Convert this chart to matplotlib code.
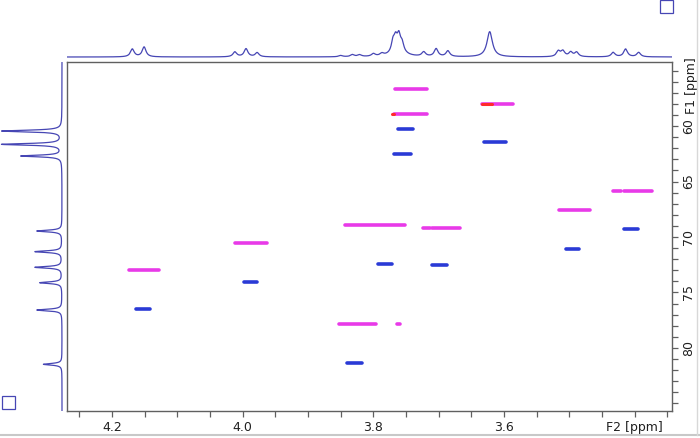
import numpy as np
import matplotlib.pyplot as plt
from matplotlib.patches import Rectangle
from matplotlib.lines import Line2D
from matplotlib.ticker import FixedLocator, MultipleLocator

# 1H-13C HSQC (multiplicity edited) with 1D projections
# F2 = 1H axis, F1 = 13C axis, both in ppm

# top 1D (1H) projection: peak positions [ppm], relative heights, half widths [ppm]
h_ppm = [4.169, 4.151, 4.012, 3.995, 3.978,
         3.850, 3.832, 3.821, 3.800, 3.787,
         3.770, 3.766, 3.761, 3.756, 3.762,
         3.723, 3.704, 3.686, 3.622,
         3.517, 3.510, 3.498, 3.489,
         3.433, 3.414, 3.394]
h_int = [0.30, 0.38, 0.19, 0.31, 0.16,
         0.05, 0.08, 0.07, 0.10, 0.09,
         0.40, 0.45, 0.55, 0.30, 0.22,
         0.17, 0.30, 0.22, 0.97,
         0.21, 0.21, 0.17, 0.17,
         0.17, 0.30, 0.17]
h_hw = [0.0035] * 10 + [0.003, 0.003, 0.003, 0.003, 0.012] + [0.0035] * 3 + [0.005] + [0.0035] * 7

# left 1D (13C) projection
c_ppm = [60.45, 61.65, 62.70, 69.46, 71.32, 72.73, 74.12, 76.58, 81.47]
c_int = [1.00, 1.00, 0.68, 0.42, 0.45, 0.45, 0.37, 0.42, 0.31]

# cross peaks: F2 start, F2 end, F1, phase (+1 CH/CH3, -1 CH2)
cp_f2a = [3.767, 3.634, 3.768, 3.762, 3.631, 3.769, 3.434, 3.417, 3.516, 3.417,
          3.506, 3.844, 3.724, 3.711, 4.012, 4.174, 3.998, 4.163, 3.793, 3.711,
          3.853, 3.764, 3.841]
cp_f2b = [3.718, 3.587, 3.718, 3.739, 3.597, 3.742, 3.421, 3.374, 3.469, 3.395,
          3.486, 3.752, 3.714, 3.668, 3.963, 4.128, 3.978, 4.142, 3.772, 3.688,
          3.796, 3.760, 3.818]
cp_f1 = [56.67, 58.02, 58.92, 60.30, 61.47, 62.52, 65.83, 65.83, 67.57, 69.28,
         71.08, 68.92, 69.19, 69.19, 70.54, 72.97, 74.05, 76.49, 72.43, 72.52,
         77.84, 77.84, 81.34]
cp_phase = [1, 1, 1, -1, -1, -1, 1, 1, 1, -1,
            -1, 1, 1, 1, 1, 1, -1, -1, -1, -1,
            1, 1, -1]

# strongest contour level (red) inside a few positive peaks
red_f2a = [3.634, 3.772]
red_f2b = [3.618, 3.769]
red_f1 = [58.02, 58.92]

F2_LIM = (4.269, 3.343)
F1_LIM = (85.68, 54.23)

W, H = 700, 438
TRACE = "#4646b4"
FRAME = "#606060"


def lorentz_sum(grid, centres, heights, widths):
    y = np.zeros_like(grid)
    for c, h, w in zip(centres, heights, widths):
        y += h * w**2 / ((grid - c)**2 + w**2)
    return y


def px(x0, y0, x1, y1):
    # pixel box (left, top, right, bottom) -> figure rect
    return [x0 / W, 1 - y1 / H, (x1 - x0) / W, (y1 - y0) / H]


fig = plt.figure(figsize=(7.0, 4.38), dpi=100)

ax = fig.add_axes(px(67, 62, 672, 411))
ax_top = fig.add_axes(px(67, 28, 672, 60), sharex=ax)
ax_left = fig.add_axes(px(0, 62, 64, 411), sharey=ax)

# cross peaks
col = {1: "#e83ae8", -1: "#2a3ad6"}
for a, b, f1, ph in zip(cp_f2a, cp_f2b, cp_f1, cp_phase):
    ax.plot([a, b], [f1, f1], color=col[ph], lw=2.6, solid_capstyle="round")
for a, b, f1 in zip(red_f2a, red_f2b, red_f1):
    ax.plot([a, b], [f1, f1], color="#ff2a2a", lw=2.2, solid_capstyle="round")

ax.set_xlim(*F2_LIM)
ax.set_ylim(*F1_LIM)

ax.xaxis.set_major_locator(FixedLocator([4.2, 4.0, 3.8, 3.6, 3.4]))
ax.set_xticklabels(["4.2", "4.0", "3.8", "3.6", "F2 [ppm]"])
ax.xaxis.set_minor_locator(MultipleLocator(0.05))

ax.yaxis.tick_right()
ax.yaxis.set_major_locator(FixedLocator([60, 65, 70, 75, 80]))
ax.yaxis.set_minor_locator(MultipleLocator(1))
for lab in ax.get_yticklabels():
    lab.set_rotation(90)
    lab.set_va("center")
ax.text(1.0, 56.4, "F1 [ppm]", transform=ax.get_yaxis_transform(),
        rotation=90, va="center", ha="left", fontsize=9, color="#202020")
ax.texts[-1].set_x(1.0 + 13 / 605)

ax.tick_params(which="both", direction="out", length=4.5, width=0.9,
               color=FRAME, labelsize=9, labelcolor="#202020", pad=3)
for sp in ax.spines.values():
    sp.set_color(FRAME)
    sp.set_linewidth(1.0)

# top projection
g2 = np.linspace(F2_LIM[1], F2_LIM[0], 4000)
ax_top.plot(g2, lorentz_sum(g2, h_ppm, h_int, h_hw), color=TRACE, lw=0.9)
ax_top.set_ylim(-0.115, 1.115)
ax_top.axis("off")

# left projection
g1 = np.linspace(F1_LIM[1], F1_LIM[0], 4000)
ax_left.plot(lorentz_sum(g1, c_ppm, c_int, [0.09] * len(c_ppm)), g1,
             color=TRACE, lw=0.9)
ax_left.set_xlim(1.033, -0.033)
ax_left.axis("off")

# window decorations
fig.add_artist(Rectangle((660 / W, 1 - 13 / H), 13 / W, 13 / H,
                         transform=fig.transFigure, fill=False, ec=TRACE, lw=0.9))
fig.add_artist(Rectangle((2 / W, 1 - 409 / H), 13 / W, 13 / H,
                         transform=fig.transFigure, fill=False, ec=TRACE, lw=0.9))
fig.add_artist(Line2D([0, 1], [1 - 435 / H] * 2, transform=fig.transFigure,
                      color="#c8c8c8", lw=1.5))
fig.add_artist(Line2D([697 / W] * 2, [1 - 435 / H, 1], transform=fig.transFigure,
                      color="#d8d8d8", lw=1.0))

fig.savefig("out.png", dpi=100)
